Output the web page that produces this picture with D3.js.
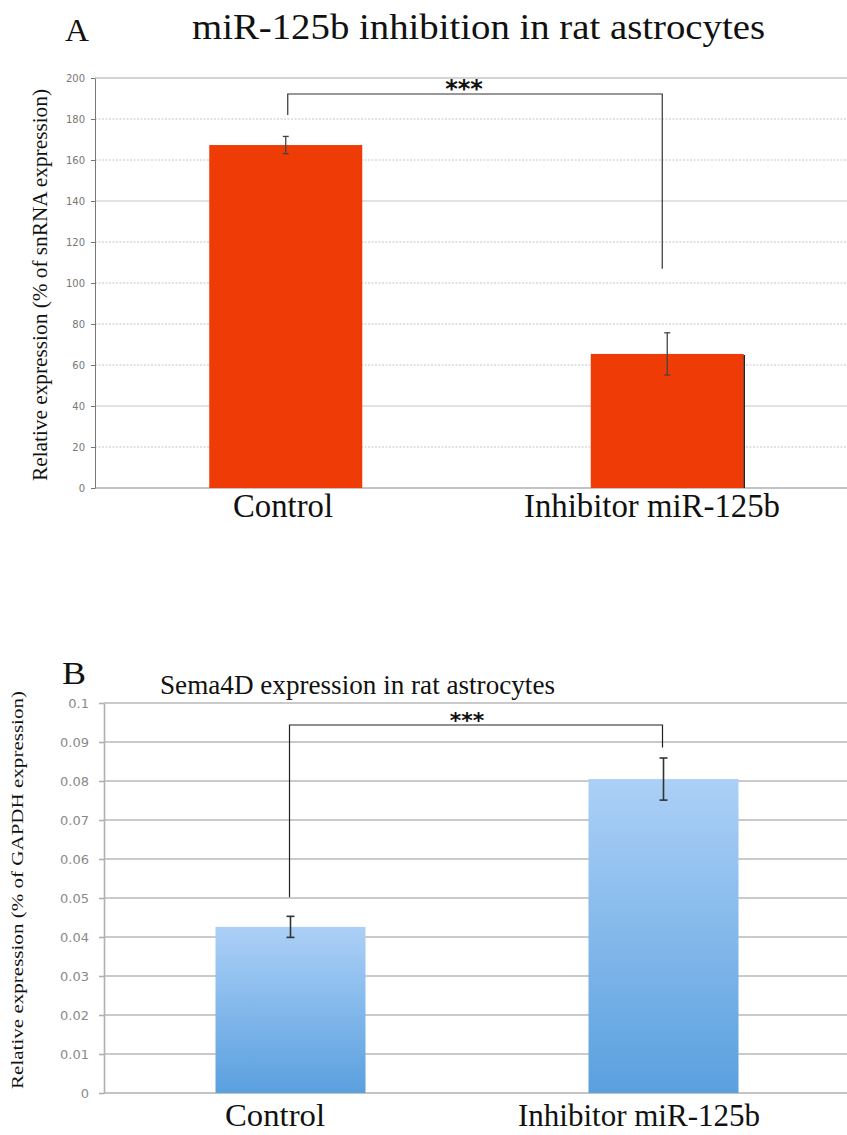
<!DOCTYPE html>
<html><head><meta charset="utf-8">
<script src="https://cdn.jsdelivr.net/npm/d3@7"></script>
<style>body{margin:0;background:#fff}svg{display:block}</style>
</head><body>
<script>
const categories = ["Control", "Inhibitor miR-125b"];
const valuesA = [167.3, 65.4];
const errA = [4.2, 10.3];
const ticksA = [0, 20, 40, 60, 80, 100, 120, 140, 160, 180, 200];
const valuesB = [0.0426, 0.0805];
const errB = [0.0027, 0.0054];
const ticksB = [0, 0.01, 0.02, 0.03, 0.04, 0.05, 0.06, 0.07, 0.08, 0.09, 0.1];
const tickLabelsB = ["0", "0.01", "0.02", "0.03", "0.04", "0.05", "0.06", "0.07", "0.08", "0.09", "0.1"];

const W = 847, H = 1135;
const svg = d3.select("body").append("svg").attr("width", W).attr("height", H);
const defs = svg.append("defs");
const grad = defs.append("linearGradient").attr("id", "blueGrad").attr("x1", 0).attr("y1", 0).attr("x2", 0).attr("y2", 1);
grad.append("stop").attr("offset", "0%").attr("stop-color", "#acd0f7");
grad.append("stop").attr("offset", "100%").attr("stop-color", "#5aa0df");
const blur = defs.append("filter").attr("id", "sh").attr("x", "-5%").attr("y", "-50%").attr("width", "110%").attr("height", "200%");
blur.append("feGaussianBlur").attr("stdDeviation", 1.5);

const serif = "'Liberation Serif', 'Times New Roman', serif";
const sans = "'DejaVu Sans', Verdana, sans-serif";

function fitText(g, x, y, str, size, len, anchor) {
  return g.append("text").attr("x", x).attr("y", y).attr("text-anchor", anchor || "start")
    .attr("font-family", serif).attr("font-size", size).attr("fill", "#111")
    .attr("textLength", len).attr("lengthAdjust", "spacingAndGlyphs").text(str);
}

// ---------------- Chart A ----------------
const A = { left: 95, right: 858, top: 78, bottom: 488 };
const xA = d3.scalePoint().domain(categories).range([A.left, A.right]).padding(0.5);
const yA = d3.scaleLinear().domain([0, 200]).range([A.bottom, A.top]);
const gA = svg.append("g");

gA.append("line").attr("x1", 107).attr("x2", 847).attr("y1", 524).attr("y2", 524)
  .attr("stroke", "#bbb").attr("stroke-width", 3).attr("filter", "url(#sh)");

gA.selectAll("line.grid").data(ticksA.filter(d => d > 0)).join("line")
  .attr("x1", A.left).attr("x2", W).attr("y1", d => yA(d)).attr("y2", d => yA(d))
  .attr("stroke", d => (d === 200 ? "#aaa" : "#c4c4c4"))
  .attr("stroke-width", 1)
  .attr("stroke-dasharray", d => (d === 200 || d === 40 || d === 140) ? null : "2,1.5");

const axA = gA.append("g").attr("transform", `translate(${A.left},0)`)
  .call(d3.axisLeft(yA).tickValues(ticksA).tickSize(4).tickSizeOuter(0).tickPadding(6));
axA.select(".domain").attr("stroke", "#777");
axA.selectAll(".tick line").attr("stroke", "#777");
axA.selectAll(".tick text").attr("font-family", sans).attr("font-size", 10).attr("fill", "#777");
gA.append("line").attr("x1", A.left).attr("x2", W).attr("y1", A.bottom).attr("y2", A.bottom)
  .attr("stroke", "#888").attr("stroke-width", 1.2);

const bwA = 153;
gA.selectAll("rect.bar").data(categories).join("rect")
  .attr("x", d => xA(d) - bwA / 2).attr("width", bwA)
  .attr("y", (d, i) => yA(valuesA[i])).attr("height", (d, i) => A.bottom - yA(valuesA[i]))
  .attr("fill", "#ef3b05");
gA.append("line").attr("x1", xA(categories[1]) + bwA / 2 + 0.5).attr("x2", xA(categories[1]) + bwA / 2 + 0.5)
  .attr("y1", yA(valuesA[1]) + 1).attr("y2", A.bottom).attr("stroke", "#222").attr("stroke-width", 1.5);

categories.forEach((c, i) => {
  const x = xA(c), y1 = yA(valuesA[i] + errA[i]), y2 = yA(valuesA[i] - errA[i]);
  gA.append("line").attr("x1", x).attr("x2", x).attr("y1", y1).attr("y2", y2).attr("stroke", "#444").attr("stroke-width", 1.3);
  [y1, y2].forEach(y => gA.append("line").attr("x1", x - 3).attr("x2", x + 3).attr("y1", y).attr("y2", y).attr("stroke", "#444").attr("stroke-width", 1.3));
});

const brA = 94;
gA.append("path")
  .attr("d", `M${xA(categories[0]) + 2},${yA(182)}V${brA}H${xA(categories[1]) - 5}V${yA(107)}`)
  .attr("fill", "none").attr("stroke", "#333").attr("stroke-width", 1.2);
gA.append("text").attr("x", 464).attr("y", 97)
  .attr("text-anchor", "middle").attr("font-family", sans).attr("font-size", 24).attr("font-weight", "bold").attr("fill", "#111").text("***");

fitText(gA, 65, 41, "A", 32, 24);
fitText(gA, 192, 39, "miR-125b inhibition in rat astrocytes", 35, 573);
gA.append("text").attr("transform", `translate(47,285) rotate(-90)`)
  .attr("text-anchor", "middle").attr("font-family", serif).attr("font-size", 21).attr("fill", "#111")
  .attr("textLength", 392).attr("lengthAdjust", "spacingAndGlyphs")
  .text("Relative expression (% of snRNA expression)");
const catLenA = [100, 256], catCxA = [283, 652];
categories.forEach((c, i) => fitText(gA, catCxA[i], 517, c, 33, catLenA[i], "middle"));

// ---------------- Chart B ----------------
const B = { left: 104, right: 850, top: 703, bottom: 1093 };
const xB = d3.scalePoint().domain(categories).range([B.left, B.right]).padding(0.5);
const yB = d3.scaleLinear().domain([0, 0.1]).range([B.bottom, B.top]);
const gB = svg.append("g");

gB.selectAll("line.grid").data(ticksB.filter(d => d > 0)).join("line")
  .attr("x1", B.left).attr("x2", W).attr("y1", d => yB(d)).attr("y2", d => yB(d))
  .attr("stroke", "#b8b8b8").attr("stroke-width", 1.6);

const axB = gB.append("g").attr("transform", `translate(${B.left},0)`)
  .call(d3.axisLeft(yB).tickValues(ticksB).tickFormat((d, i) => tickLabelsB[i]).tickSize(5).tickSizeOuter(0).tickPadding(10));
axB.select(".domain").attr("stroke", "#b0b0b0").attr("stroke-width", 1.6);
axB.selectAll(".tick line").attr("stroke", "#b0b0b0").attr("stroke-width", 1.6);
axB.selectAll(".tick text").attr("font-family", sans).attr("font-size", 13).attr("fill", "#8a8a8a");
gB.append("line").attr("x1", B.left).attr("x2", W).attr("y1", B.bottom).attr("y2", B.bottom)
  .attr("stroke", "#b0b0b0").attr("stroke-width", 1.6);

const bwB = 150;
gB.selectAll("rect.bar").data(categories).join("rect")
  .attr("x", d => xB(d) - bwB / 2).attr("width", bwB)
  .attr("y", (d, i) => yB(valuesB[i])).attr("height", (d, i) => B.bottom - yB(valuesB[i]))
  .attr("fill", "url(#blueGrad)");

categories.forEach((c, i) => {
  const x = xB(c), y1 = yB(valuesB[i] + errB[i]), y2 = yB(valuesB[i] - errB[i]);
  gB.append("line").attr("x1", x).attr("x2", x).attr("y1", y1).attr("y2", y2).attr("stroke", "#333").attr("stroke-width", 1.6);
  [y1, y2].forEach(y => gB.append("line").attr("x1", x - 4).attr("x2", x + 4).attr("y1", y).attr("y2", y).attr("stroke", "#333").attr("stroke-width", 1.6));
});

const brB = 725;
gB.append("path")
  .attr("d", `M${xB(categories[0]) - 1},${yB(0.0502)}V${brB}H${xB(categories[1]) - 1}V${yB(0.0886)}`)
  .attr("fill", "none").attr("stroke", "#222").attr("stroke-width", 1.2);
gB.append("text").attr("x", 467).attr("y", 728)
  .attr("text-anchor", "middle").attr("font-family", sans).attr("font-size", 22).attr("font-weight", "bold").attr("fill", "#111").text("***");

fitText(gB, 62, 684, "B", 32, 24);
fitText(gB, 160, 694, "Sema4D expression in rat astrocytes", 27, 395);
gB.append("text").attr("transform", `translate(23,890) rotate(-90)`)
  .attr("text-anchor", "middle").attr("font-family", serif).attr("font-size", 17).attr("fill", "#111")
  .attr("textLength", 398).attr("lengthAdjust", "spacingAndGlyphs")
  .text("Relative expression (% of GAPDH expression)");
const catLenB = [100, 242], catCxB = [275, 639];
categories.forEach((c, i) => fitText(gB, catCxB[i], 1126, c, 32, catLenB[i], "middle"));
</script>
</body></html>
